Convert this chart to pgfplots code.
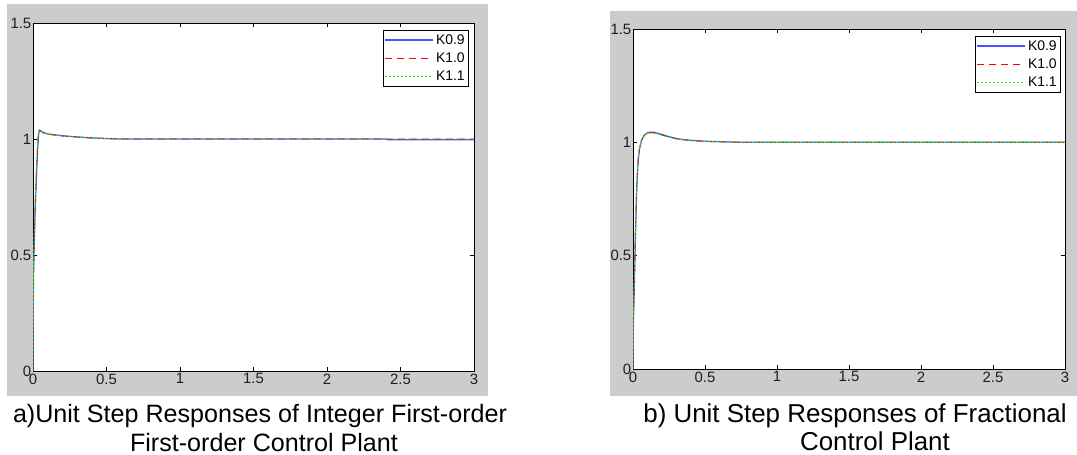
\documentclass[border=0pt]{standalone}
\usepackage{fontspec}
\setmainfont{Liberation Sans}
\usepackage{pgfplots}
\pgfplotsset{compat=1.18}
\definecolor{figgray}{RGB}{204,204,204}
\definecolor{ticklab}{RGB}{30,30,40}
\definecolor{matblue}{RGB}{80,80,255}
\definecolor{mred}{RGB}{255,0,0}
\definecolor{mgreen}{RGB}{0,255,0}
\pgfplotsset{
  mstyle/.style={
    scale only axis,
    xmin=0, xmax=3, ymin=0, ymax=1.5,
    xtick={0,0.5,1,1.5,2,2.5,3},
    ytick={0,0.5,1,1.5},
    axis background/.style={fill=white},
    axis line style={black, line width=0.8bp},
    tick style={black, line width=0.6bp},
    major tick length=4bp,
    tick align=inside,
    /pgf/number format/assume math mode=true,
    tick label style={font=\fontsize{15}{17}\selectfont, text=ticklab},
    yticklabel style={inner sep=1.5bp},
    xticklabel style={inner sep=2.5bp},
    legend cell align=left,
    legend style={font=\fontsize{14}{16}\selectfont, line width=0.6bp,
      inner xsep=2bp, inner ysep=2bp, row sep=3bp, anchor=north east},
    legend image code/.code={\path (0bp,0bp) -- (48bp,0bp); \draw[##1] (0bp,0bp) -- (41bp,0bp);},
  },
  kblue/.style={draw=matblue, dash pattern=on 50bp off 0.01bp, line width=1.2bp},
  kred/.style={draw=mred, dash pattern=on 7bp off 5bp, line width=0.9bp},
  kgreen/.style={draw=mgreen, dash pattern=on 2bp off 2bp, line width=0.9bp},
}
\begin{document}
\begin{tikzpicture}
\useasboundingbox (0,0) rectangle (1077bp,-455bp);
\fill[figgray] (7bp,-4bp) rectangle (488bp,-396bp);
\fill[figgray] (610bp,-11bp) rectangle (1077bp,-396bp);

\begin{axis}[mstyle, at={(33bp,-371bp)}, anchor=south west,
  width=441bp, height=348bp,
  legend style={at={(1,1)}, xshift=-5bp, yshift=-7bp}]
\addplot[draw=none, forget plot] coordinates {(0,0) (0.001,0)};
\addplot[kblue] coordinates {
(0,0) (0.001,0.20) (0.004,0.42) (0.009,0.55) (0.015,0.70) (0.025,0.86) (0.032,0.96)
(0.038,1.02) (0.045,1.038) (0.052,1.036) (0.07,1.028) (0.1,1.022) (0.2,1.014)
(0.3,1.009) (0.4,1.005) (0.5,1.002) (0.6,1.0) (2.4,1.0) (2.41,0.997) (3,0.997)};
\addlegendentry{K0.9}
\addplot[kred] coordinates {
(0,0) (0.001,0.22) (0.004,0.45) (0.009,0.58) (0.015,0.72) (0.024,0.87) (0.031,0.97)
(0.037,1.025) (0.043,1.036) (0.05,1.034) (0.07,1.027) (0.1,1.021) (0.2,1.013)
(0.3,1.008) (0.4,1.004) (0.5,1.002) (0.6,1.0) (3,1.0)};
\addlegendentry{K1.0}
\addplot[kgreen] coordinates {
(0,0) (0.001,0.24) (0.004,0.48) (0.009,0.60) (0.015,0.74) (0.023,0.88) (0.030,0.98)
(0.036,1.03) (0.042,1.04) (0.049,1.035) (0.07,1.027) (0.1,1.02) (0.2,1.012)
(0.3,1.007) (0.4,1.004) (0.5,1.001) (0.6,1.0) (3,1.0)};
\addlegendentry{K1.1}
\end{axis}

\begin{axis}[mstyle, at={(633bp,-369bp)}, anchor=south west,
  width=432bp, height=340bp,
  legend style={at={(1,1)}, xshift=-4bp, yshift=-7bp}]
\addplot[draw=none, forget plot] coordinates {(0,0) (0.001,0)};
\addplot[kblue] coordinates {
(0,0) (0.002,0.18) (0.007,0.30) (0.014,0.50) (0.02,0.66) (0.026,0.80) (0.035,0.91)
(0.045,0.97) (0.06,1.01) (0.08,1.033) (0.1,1.042) (0.12,1.045) (0.15,1.044)
(0.2,1.035) (0.25,1.025) (0.3,1.017) (0.35,1.012) (0.4,1.009) (0.5,1.005)
(0.6,1.003) (0.7,1.001) (0.8,1.0) (3,1.0)};
\addlegendentry{K0.9}
\addplot[kred] coordinates {
(0,0) (0.002,0.20) (0.007,0.33) (0.014,0.52) (0.02,0.68) (0.026,0.81) (0.035,0.92)
(0.045,0.975) (0.06,1.012) (0.08,1.032) (0.1,1.04) (0.12,1.043) (0.15,1.042)
(0.2,1.033) (0.25,1.023) (0.3,1.016) (0.35,1.011) (0.4,1.008) (0.5,1.004)
(0.6,1.002) (0.7,1.001) (0.8,1.0) (3,1.0)};
\addlegendentry{K1.0}
\addplot[kgreen] coordinates {
(0,0) (0.002,0.22) (0.007,0.35) (0.014,0.54) (0.02,0.70) (0.026,0.82) (0.035,0.93)
(0.045,0.98) (0.06,1.014) (0.08,1.031) (0.1,1.038) (0.12,1.041) (0.15,1.040)
(0.2,1.031) (0.25,1.022) (0.3,1.015) (0.35,1.01) (0.4,1.007) (0.5,1.004)
(0.6,1.002) (0.7,1.001) (0.8,1.0) (3,1.0)};
\addlegendentry{K1.1}
\end{axis}

\node[anchor=base, font=\fontsize{25.2}{29}\selectfont, inner sep=0] at (260bp,-422bp) {a)Unit Step Responses of Integer First-order};
\node[anchor=base, font=\fontsize{25.2}{29}\selectfont, inner sep=0] at (264bp,-451bp) {First-order Control Plant};
\node[anchor=base, font=\fontsize{26}{30}\selectfont, inner sep=0] at (855bp,-422bp) {b) Unit Step Responses of Fractional};
\node[anchor=base, font=\fontsize{26}{30}\selectfont, inner sep=0] at (875bp,-450bp) {Control Plant};
\end{tikzpicture}
\end{document}
